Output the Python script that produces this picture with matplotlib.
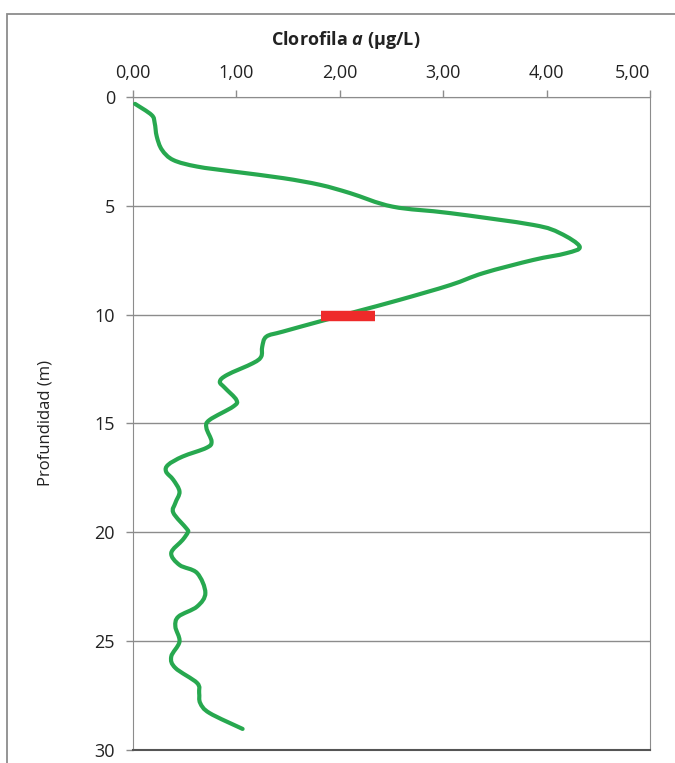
import matplotlib.pyplot as plt
from matplotlib.patches import Rectangle, PathPatch
from matplotlib.path import Path

plt.rcParams['font.family'] = ['Open Sans', 'DejaVu Sans']
plt.rcParams['mathtext.fontset'] = 'custom'
plt.rcParams['mathtext.it'] = 'Open Sans:italic:bold'

# clorofila a (ug/L) vs profundidad (m)
chl = [0.02, 0.18, 0.21, 0.23, 0.28, 0.39, 0.62, 0.97, 1.45, 1.81, 2.10,
       2.51, 3.07, 3.87, 4.13, 4.32, 4.19, 3.87, 3.39, 3.07, 2.58, 2.16,
       1.84, 1.45, 1.29, 1.25, 1.24, 1.16, 0.91, 0.84, 0.89, 1.00, 0.97,
       0.74, 0.71, 0.76, 0.71, 0.48, 0.34, 0.32, 0.39, 0.45, 0.41, 0.39,
       0.52, 0.53, 0.48, 0.37, 0.45, 0.62, 0.70, 0.62, 0.44, 0.41, 0.45,
       0.37, 0.41, 0.62, 0.64, 0.65, 0.74, 1.06]
prof = [0.32, 0.83, 1.2, 1.82, 2.43, 2.9, 3.2, 3.43, 3.73, 4.04, 4.42,
        5.04, 5.34, 5.88, 6.26, 6.88, 7.18, 7.49, 8.09, 8.64, 9.32, 9.86,
        10.27, 10.78, 11.01, 11.47, 11.93, 12.23, 12.77, 13.08, 13.37, 13.92, 14.22,
        14.84, 15.2, 15.83, 16.12, 16.52, 16.9, 17.21, 17.59, 18.13, 18.65, 19.1,
        19.84, 20.0, 20.35, 20.95, 21.5, 21.87, 22.78, 23.41, 23.87, 24.33, 25.02,
        25.71, 26.23, 26.92, 27.38, 27.84, 28.3, 29.03]

# red marker (termoclina)
marca_x = [1.82, 2.34]
marca_y = [10.05, 10.05]

xticks = [0, 1, 2, 3, 4, 5]
xlabels = ['0,00', '1,00', '2,00', '3,00', '4,00', '5,00']
yticks = [0, 5, 10, 15, 20, 25, 30]


def smooth_path(xs, ys):
    # excel-like smoothed line: bezier segments through every point
    pts = list(zip(xs, ys))
    verts = [pts[0]]
    codes = [Path.MOVETO]
    n = len(pts)
    for i in range(n - 1):
        p0 = pts[max(i - 1, 0)]
        p1 = pts[i]
        p2 = pts[i + 1]
        p3 = pts[min(i + 2, n - 1)]
        c1 = (p1[0] + (p2[0] - p0[0]) / 6, p1[1] + (p2[1] - p0[1]) / 6)
        c2 = (p2[0] - (p3[0] - p1[0]) / 6, p2[1] - (p3[1] - p1[1]) / 6)
        verts += [c1, c2, p2]
        codes += [Path.CURVE4] * 3
    return Path(verts, codes)


fig = plt.figure(figsize=(6.75, 7.63), dpi=100)
ax = fig.add_axes([0.197, 0.017, 0.766, 0.856])

# outer chart frame
fig.patches.append(Rectangle((7 / 675, -0.1), 1.2, 1 - 14 / 763 + 0.1,
                             transform=fig.transFigure, fill=False,
                             edgecolor='#8c8c8c', linewidth=1.3))

ax.add_patch(PathPatch(smooth_path(chl, prof), facecolor='none', edgecolor='#27a84f',
                       linewidth=3, capstyle='round', joinstyle='round', zorder=3))
ax.plot(marca_x, marca_y, color='#ee2a2a', linewidth=7.5, solid_capstyle='butt', zorder=4)

ax.set_xlim(0, 5)
ax.set_ylim(30, 0)
ax.xaxis.tick_top()
ax.xaxis.set_label_position('top')
ax.set_xticks(xticks)
ax.set_xticklabels(xlabels)
ax.set_yticks(yticks)
ax.tick_params(axis='both', labelsize=13, colors='#8c8c8c', labelcolor='#222222',
               length=5, width=1)
ax.tick_params(axis='x', pad=6)
ax.tick_params(axis='y', pad=8)
# last label kept inside the chart, like excel does
ax.get_xticklabels()[-1].set_horizontalalignment('right')

ax.yaxis.grid(True, color='#8c8c8c', linewidth=1)
ax.set_axisbelow(True)
for s in ['top', 'left', 'right']:
    ax.spines[s].set_color('#8c8c8c')
ax.spines['bottom'].set_color('#555555')
ax.spines['bottom'].set_linewidth(1.5)

ax.set_xlabel('Clorofila $a$ (µg/L)', fontsize=13, fontweight='bold', color='#222222')
ax.xaxis.set_label_coords(0.412, 1.079)
ax.set_ylabel('Profundidad (m)', fontsize=12, color='#222222')
ax.yaxis.set_label_coords(-0.153, 0.5)

fig.savefig('out.png', dpi=100)
